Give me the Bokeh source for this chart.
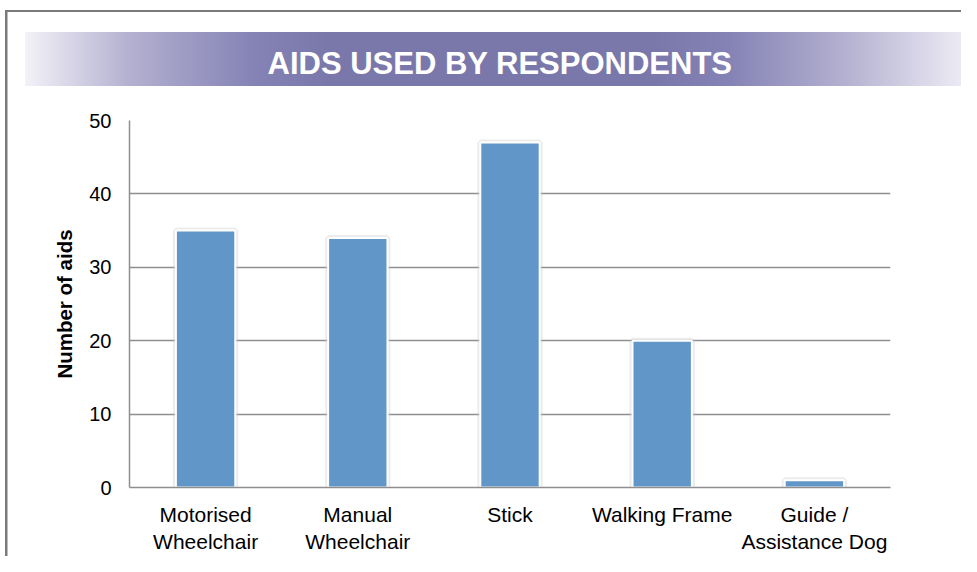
from bokeh.plotting import figure
from bokeh.models import Range1d, FactorRange, ColumnDataSource, FixedTicker
from bokeh.embed import file_html
from bokeh.resources import INLINE

# ---- data ----
categories = ["Motorised\nWheelchair", "Manual\nWheelchair", "Stick",
              "Walking Frame", "Guide /\nAssistance Dog"]
counts = [35, 34, 47, 20, 1]
y_ticks = [0, 10, 20, 30, 40, 50]
title_text = "AIDS USED BY RESPONDENTS"
y_label = "Number of aids"

FONT = "Liberation Sans"
GRID = "#8f8f8f"
W, H = 961, 556
FL, FR, FT, FB = 129, 890, 120, 489   # frame edges in canvas pixels

# page decoration (outer grey frame + gradient title banner) as CSS backgrounds
banner = ("linear-gradient(to right, #f3f2f8 0%, #b3b0d0 11%, #8583b5 24%, "
          "#7a78aa 32%, #7a78aa 66%, #8583b5 74%, #b3b0d0 86%, #f3f2f8 100%) "
          "25px 32px / 952px 54px no-repeat")
left_line = "linear-gradient(#7a7a7a, #7a7a7a) 5px 10px / 2.5px 560px no-repeat"
top_line = "linear-gradient(#7a7a7a, #7a7a7a) 5px 10px / 970px 2px no-repeat"

p = figure(width=W, height=H, x_range=FactorRange(factors=categories),
           y_range=Range1d(0, 50), output_backend="svg", toolbar_location=None,
           min_border_left=FL, min_border_right=W - FR, min_border_top=FT,
           min_border_bottom=H - FB,
           styles={"background": ", ".join([left_line, top_line, banner]) + ", white"})
p.outline_line_color = None
p.background_fill_color = "white"
p.border_fill_color = None

# ---- title ----
p.title.text = title_text
p.title.align = "left"
p.title.offset = 138
p.title.text_font = FONT
p.title.text_font_style = "bold"
p.title.text_font_size = "31px"
p.title.text_color = "white"
p.title.standoff = 79

# ---- bars ----
src = ColumnDataSource(dict(cat=categories, val=counts))
p.vbar(x="cat", top="val", width=0.39, source=src, fill_color=None,
       line_color="#c8c8c8", line_width=6, line_alpha=0.35)
p.vbar(x="cat", top="val", width=0.39, source=src, fill_color="#6196C9",
       line_color="white", line_width=2)

# ---- grid & axes ----
p.xgrid.visible = False
p.ygrid.grid_line_color = GRID
p.ygrid.grid_line_width = 1.5
p.ygrid.ticker = FixedTicker(ticks=y_ticks)

p.yaxis.ticker = FixedTicker(ticks=y_ticks)
p.yaxis.major_tick_out = 0
p.yaxis.major_tick_in = 0
p.yaxis.minor_tick_out = 0
p.yaxis.minor_tick_in = 0
p.yaxis.axis_line_color = GRID
p.yaxis.axis_line_width = 1.5
p.yaxis.major_label_text_font = FONT
p.yaxis.major_label_text_font_size = "20px"
p.yaxis.major_label_text_color = "black"
p.yaxis.major_label_standoff = 18
p.yaxis.axis_label = y_label
p.yaxis.axis_label_text_font = FONT
p.yaxis.axis_label_text_font_style = "bold"
p.yaxis.axis_label_text_font_size = "20.5px"
p.yaxis.axis_label_text_color = "black"
p.yaxis.axis_label_standoff = 10

p.xaxis.major_tick_out = 0
p.xaxis.major_tick_in = 0
p.xaxis.axis_line_color = GRID
p.xaxis.axis_line_width = 1.5
p.xaxis.major_label_text_font = FONT
p.xaxis.major_label_text_font_size = "21px"
p.xaxis.major_label_text_color = "black"
p.xaxis.major_label_standoff = 15

open("out.html", "w").write(file_html(p, INLINE))
